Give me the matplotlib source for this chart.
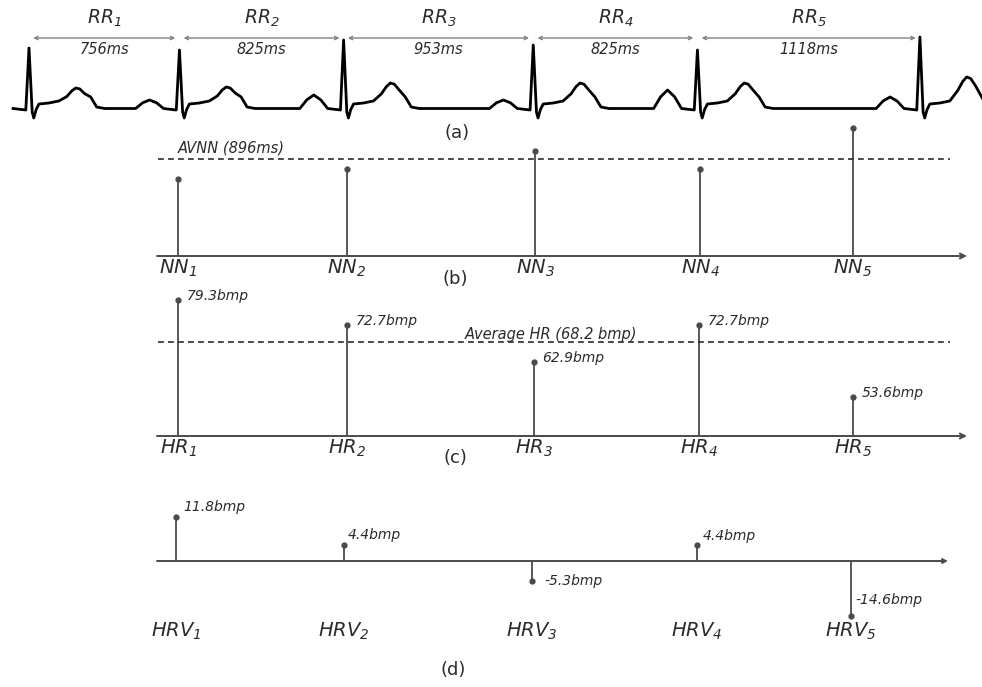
import numpy as np
import matplotlib
matplotlib.use('Agg')
import matplotlib.pyplot as plt

plt.rcParams['font.family'] = 'DejaVu Sans'
plt.rcParams['mathtext.fontset'] = 'custom'
plt.rcParams['mathtext.rm'] = 'DejaVu Sans:italic'
plt.rcParams['mathtext.it'] = 'DejaVu Sans:italic'
plt.rcParams['mathtext.default'] = 'it'

# --- data ---
rr_ms = [756, 825, 953, 825, 1118]
nn_ms = [756, 825, 953, 825, 1118]
avnn = 896
hr_bpm = [79.3, 72.7, 62.9, 72.7, 53.6]
avg_hr = 68.2
hrv_bpm = [11.8, 4.4, -5.3, 4.4, -14.6]

# ECG amplitudes per beat (mV, approx.)
r_amp = [1.18, 1.14, 1.34, 1.24, 1.14, 1.40]
t_amp = [0.38, 0.40, 0.48, 0.48, 0.48, 0.60]
p_amp = [0.05, 0.14, 0.24, 0.14, 0.34, 0.20]

# one beat: offsets from R peak (ms) and base values (mV); P, R, T scaled per beat
beat_t = [-220, -185, -150, -115, -80, -40, -16, 0, 16, 24, 36, 50, 100, 150, 190, 215, 235, 255, 280, 310, 340, 380]
beat_v = [-0.03, 0.6, 1.0, 0.6, -0.03, -0.05, -0.06, 1.0, -0.1, -0.22, -0.05, 0.06, 0.08, 0.12, 0.55, 0.85, 1.0, 0.95, 0.7, 0.2, 0.0, -0.03]
beat_kind = ['b', 'p', 'p', 'p', 'b', 'b', 'b', 'r', 'b', 'b', 'b', 'b', 'b', 'b', 't', 't', 't', 't', 't', 'b', 'b', 'b']

W, H = 982, 687
fig = plt.figure(figsize=(W / 100, H / 100), dpi=100)

ink = '#2b2b2b'
stem_c = '#4a4a4a'


def panel(top, bot, base_px, base_val, px_per_unit):
    ax = fig.add_axes([0, 1 - bot / H, 1, (bot - top) / H])
    ax.set_xlim(0, W)
    ax.set_ylim(base_val - (bot - base_px) / px_per_unit,
                base_val + (base_px - top) / px_per_unit)
    ax.axis('off')
    return ax


# ---------------- (a) ECG ----------------
px_per_ms = 0.199
ax_a = fig.add_axes([0, 1 - 128 / H, 1, 128 / H])
ax_a.set_xlim(-29 / px_per_ms, (W - 29) / px_per_ms)
ax_a.set_ylim(-(128 - 107) / 50, 107 / 50)
ax_a.axis('off')

r_times = np.concatenate([[0], np.cumsum(rr_ms)])
ts, vs = [], []
for i, r in enumerate(r_times):
    for dt, v, k in zip(beat_t, beat_v, beat_kind):
        if k == 'p':
            v = v * p_amp[i]
        elif k == 't':
            v = v * t_amp[i]
        elif k == 'r':
            v = r_amp[i]
        if r + dt >= -95:
            ts.append(r + dt)
            vs.append(v)
ax_a.plot(ts, vs, color='black', lw=2.0, solid_joinstyle='round')

arrow_y = (107 - 38) / 50
for i, rr in enumerate(rr_ms):
    t0, t1 = r_times[i], r_times[i + 1]
    ax_a.annotate('', xy=(t1, arrow_y), xytext=(t0, arrow_y),
                  arrowprops=dict(arrowstyle='<->', color='#808080', lw=1.0,
                                  shrinkA=3, shrinkB=3, mutation_scale=6))
    mid = (t0 + t1) / 2
    ax_a.text(mid, (107 - 18) / 50, f'$RR_{i + 1}$', ha='center', va='center',
              fontsize=13.5, color=ink)
    ax_a.text(mid, (107 - 49) / 50, f'{rr}ms', ha='center', va='center',
              fontsize=10.5, style='italic', color=ink)

fig.text(457 / W, 1 - 133 / H, '(a)', ha='center', va='center', fontsize=13, color=ink)

# ---------------- (b) NN intervals ----------------
x_b = [178, 347, 535, 700, 853]
ax_b = panel(122, 290, 256, 207, 0.1403)
ax_b.annotate('', xy=(967, 207), xytext=(157, 207),
              arrowprops=dict(arrowstyle='->', color=stem_c, lw=1.4, shrinkA=0, shrinkB=0,
                              mutation_scale=9))
ax_b.vlines(x_b, 207, nn_ms, color=stem_c, lw=1.3)
ax_b.plot(x_b, nn_ms, 'o', color=stem_c, ms=3.5)
ax_b.plot([158, 950], [avnn, avnn], color=ink, lw=1.2, ls=(0, (3.5, 2.5)))
ax_b.annotate(f'AVNN ({avnn}ms)', xy=(178, avnn), xytext=(0, 3), textcoords='offset points',
              ha='left', va='bottom', fontsize=10.5, style='italic', color=ink)
for i, x in enumerate(x_b):
    ax_b.annotate(f'$NN_{i + 1}$', xy=(x, 207), xytext=(0, -9), textcoords='offset points',
                  ha='center', va='center', fontsize=14, color=ink)
fig.text(455 / W, 1 - 279 / H, '(b)', ha='center', va='center', fontsize=13, color=ink)

# ---------------- (c) heart rate ----------------
x_c = [178, 347, 534, 699, 853]
ax_c = panel(295, 465, 436, 43.4, 3.78)
ax_c.annotate('', xy=(967, 43.4), xytext=(157, 43.4),
              arrowprops=dict(arrowstyle='->', color=stem_c, lw=1.4, shrinkA=0, shrinkB=0,
                              mutation_scale=9))
ax_c.vlines(x_c, 43.4, hr_bpm, color=stem_c, lw=1.3)
ax_c.plot(x_c, hr_bpm, 'o', color=stem_c, ms=3.5)
ax_c.plot([158, 950], [avg_hr, avg_hr], color=ink, lw=1.2, ls=(0, (3.5, 2.5)))
ax_c.annotate(f'Average HR ({avg_hr} bmp)', xy=(637, avg_hr), xytext=(0, 0.5),
              textcoords='offset points', ha='right', va='bottom', fontsize=10.5,
              style='italic', color=ink)
for i, (x, v) in enumerate(zip(x_c, hr_bpm)):
    ax_c.annotate(f'{v}bmp', xy=(x, v), xytext=(6, 3), textcoords='offset points',
                  ha='left', va='center', fontsize=10, style='italic', color=ink)
    ax_c.annotate(f'$HR_{i + 1}$', xy=(x, 43.4), xytext=(0, -9), textcoords='offset points',
                  ha='center', va='center', fontsize=14, color=ink)
fig.text(455 / W, 1 - 458 / H, '(c)', ha='center', va='center', fontsize=13, color=ink)

# ---------------- (d) HR variability ----------------
x_d = [176, 344, 532, 697, 851]
lab_off = [(5, 7), (3, 7), (9, 0), (4, 6), (3, 11)]
ax_d = panel(490, 650, 561, 0, 3.75)
ax_d.annotate('', xy=(948, 0), xytext=(157, 0),
              arrowprops=dict(arrowstyle='->', color=stem_c, lw=1.4, shrinkA=0, shrinkB=0,
                              mutation_scale=7))
ax_d.vlines(x_d, 0, hrv_bpm, color=stem_c, lw=1.3)
ax_d.plot(x_d, hrv_bpm, 'o', color=stem_c, ms=3.5)
for i, (x, v) in enumerate(zip(x_d, hrv_bpm)):
    ax_d.annotate(f'{v}bmp', xy=(x, v), xytext=lab_off[i], textcoords='offset points',
                  ha='left', va='center', fontsize=10, style='italic', color=ink)
    ax_d.annotate(f'$HRV_{i + 1}$', xy=(x, 0), xytext=(0, -51), textcoords='offset points',
                  ha='center', va='center', fontsize=14, color=ink)
fig.text(453 / W, 1 - 670 / H, '(d)', ha='center', va='center', fontsize=13, color=ink)

fig.savefig('out.png', dpi=100, facecolor='white')
